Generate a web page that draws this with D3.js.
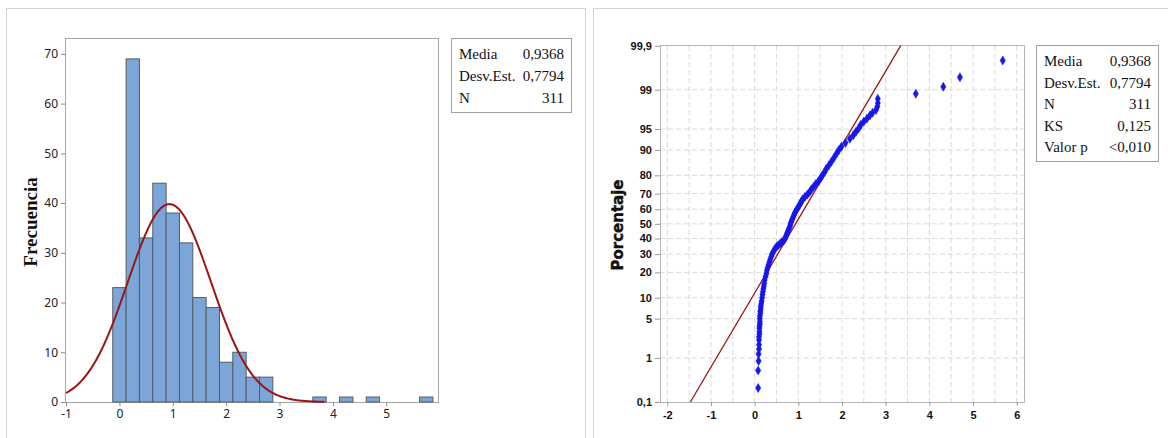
<!DOCTYPE html>
<html>
<head>
<meta charset="utf-8">
<script src="https://cdn.jsdelivr.net/npm/d3@7"></script>
<style>
  body { margin: 0; background: #fff; }
  .hist-tick text { font-family: "Noto Sans", sans-serif; font-size: 12px; fill: #222; }
  .prob-tick text { font-family: "Liberation Sans", Arial, sans-serif; font-size: 11px; font-weight: bold; fill: #111; }
  .stats text { font-family: "Liberation Serif", "Times New Roman", serif; font-size: 15px; fill: #111; }
</style>
</head>
<body>
<svg id="chart" width="1168" height="438"></svg>
<script>
// histogram bins (width 0.25) and counts
const binWidth = 0.25;
const binCenters = [0, 0.25, 0.5, 0.75, 1, 1.25, 1.5, 1.75, 2, 2.25, 2.5, 2.75, 3.75, 4.25, 4.75, 5.75];
const binCounts = [23, 69, 33, 44, 38, 32, 21, 19, 8, 10, 5, 5, 1, 1, 1, 1];
const histXTicks = [-1, 0, 1, 2, 3, 4, 5];
const histYTicks = [0, 10, 20, 30, 40, 50, 60, 70];

const mean = 0.9368;
const sd = 0.7794;
const n = 311;

const histStats = [["Media", "0,9368"], ["Desv.Est.", "0,7794"], ["N", "311"]];
const probStats = [["Media", "0,9368"], ["Desv.Est.", "0,7794"], ["N", "311"], ["KS", "0,125"], ["Valor p", "<0,010"]];

// probability plot points: percentage and value
const probPct = [0.22, 0.55, 0.87, 1.2, 1.5, 1.8, 2.2, 2.5, 2.8, 3.1, 3.5, 3.8, 4.1, 4.5, 5, 5.5, 6, 6.5, 7, 7.6,
  8.2, 9, 10, 11, 12, 13, 14, 15, 16.5, 18, 19.5, 21, 22.5, 24, 25.5, 27, 28.5, 30, 31.5, 33,
  34.5, 35.5, 36.5, 37.5, 38.5, 39.5, 41, 42.5, 44, 45.5, 47, 48.5, 50, 51.5, 53, 54.5, 56, 57.5, 59, 60.5,
  62, 63.5, 65, 66.5, 68, 69.5, 71, 72.5, 74, 75.5, 77, 78.5, 80, 81.5, 83, 84.5, 86, 87.5, 89, 90,
  91, 92, 93, 93.8, 94.5, 95.1, 95.7, 96.2, 96.6, 97, 97.3, 97.6, 97.9, 98.2, 98.5, 98.8, 99.13, 99.45, 99.77];
const probVal = [0.08, 0.08, 0.09, 0.09, 0.10, 0.10, 0.10, 0.10, 0.11, 0.11, 0.11, 0.11, 0.12, 0.12, 0.12, 0.12, 0.13, 0.13, 0.14, 0.14,
  0.15, 0.16, 0.17, 0.18, 0.19, 0.20, 0.21, 0.22, 0.23, 0.25, 0.27, 0.28, 0.30, 0.32, 0.34, 0.36, 0.38, 0.40, 0.43, 0.46,
  0.50, 0.54, 0.58, 0.62, 0.66, 0.69, 0.71, 0.73, 0.75, 0.77, 0.79, 0.81, 0.82, 0.84, 0.86, 0.88, 0.90, 0.92, 0.95, 0.98,
  1.01, 1.04, 1.07, 1.10, 1.15, 1.21, 1.26, 1.30, 1.35, 1.40, 1.46, 1.51, 1.55, 1.60, 1.64, 1.70, 1.76, 1.82, 1.88, 1.93,
  1.99, 2.08, 2.18, 2.26, 2.32, 2.38, 2.43, 2.50, 2.57, 2.64, 2.70, 2.78, 2.81, 2.82, 2.82, 3.69, 4.32, 4.70, 5.68];
const probYTicks = [0.1, 1, 5, 10, 20, 30, 40, 50, 60, 70, 80, 90, 95, 99, 99.9];
const probXTicks = [-2, -1, 0, 1, 2, 3, 4, 5, 6];

// inverse normal cdf (Acklam)
function probit(p) {
  const a = [-39.69683028665376, 220.9460984245205, -275.9285104469687, 138.357751867269, -30.66479806614716, 2.506628277459239];
  const b = [-54.47609879822406, 161.5858368580409, -155.6989798598866, 66.80131188771972, -13.28068155288572];
  const c = [-0.007784894002430293, -0.3223964580411365, -2.400758277161838, -2.549732539343734, 4.374664141464968, 2.938163982698783];
  const d = [0.007784695709041462, 0.3224671290700398, 2.445134137142996, 3.754408661907416];
  const pl = 0.02425;
  if (p < pl) {
    const q = Math.sqrt(-2 * Math.log(p));
    return (((((c[0]*q+c[1])*q+c[2])*q+c[3])*q+c[4])*q+c[5]) / ((((d[0]*q+d[1])*q+d[2])*q+d[3])*q+1);
  }
  if (p > 1 - pl) {
    const q = Math.sqrt(-2 * Math.log(1 - p));
    return -(((((c[0]*q+c[1])*q+c[2])*q+c[3])*q+c[4])*q+c[5]) / ((((d[0]*q+d[1])*q+d[2])*q+d[3])*q+1);
  }
  const q = p - 0.5, r = q * q;
  return (((((a[0]*r+a[1])*r+a[2])*r+a[3])*r+a[4])*r+a[5])*q / (((((b[0]*r+b[1])*r+b[2])*r+b[3])*r+b[4])*r+1);
}

const svg = d3.select("#chart");
const panelStroke = "#d3d3d3";
const red = "#9a1616";

// panel borders
svg.append("rect").attr("x", 6.5).attr("y", 8.5).attr("width", 579).attr("height", 440)
  .attr("fill", "none").attr("stroke", panelStroke);
svg.append("rect").attr("x", 593.5).attr("y", 8.5).attr("width", 600).attr("height", 440)
  .attr("fill", "none").attr("stroke", panelStroke);

// ---------- histogram ----------
const hx = d3.scaleLinear().domain([-1.02, 5.97]).range([65, 438]);
const hy = d3.scaleLinear().domain([0, 73.2]).range([402, 38]);

const hist = svg.append("g");
hist.append("rect").attr("x", 65.5).attr("y", 38.5).attr("width", 373).attr("height", 364)
  .attr("fill", "none").attr("stroke", "#a6a6a6");

hist.selectAll("rect.bar").data(binCenters).join("rect")
  .attr("class", "bar")
  .attr("x", d => hx(d - binWidth / 2))
  .attr("width", d => hx(d + binWidth / 2) - hx(d - binWidth / 2))
  .attr("y", (d, i) => hy(binCounts[i]))
  .attr("height", (d, i) => hy(0) - hy(binCounts[i]))
  .attr("fill", "#7ca5d8").attr("stroke", "#555c66").attr("stroke-width", 1);

// fitted normal curve
const pdf = x => Math.exp(-0.5 * ((x - mean) / sd) ** 2) / (sd * Math.sqrt(2 * Math.PI)) * n * binWidth;
const curveX = d3.range(-1, 3.85, 0.02);
hist.append("path")
  .attr("d", d3.line().x(d => hx(d)).y(d => hy(pdf(d)))(curveX))
  .attr("fill", "none").attr("stroke", red).attr("stroke-width", 2);

const hxAxis = hist.append("g").attr("class", "hist-tick").attr("transform", "translate(0,402)")
  .call(d3.axisBottom(hx).tickValues(histXTicks).tickFormat(d3.format("d")).tickSize(4).tickPadding(3));
const hyAxis = hist.append("g").attr("class", "hist-tick").attr("transform", "translate(65,0)")
  .call(d3.axisLeft(hy).tickValues(histYTicks).tickSize(4).tickPadding(3));
[hxAxis, hyAxis].forEach(a => {
  a.select(".domain").remove();
  a.selectAll("line").attr("stroke", "#8a8a8a");
});
hxAxis.selectAll("text").text(d => d < 0 ? "-" + Math.abs(d) : d);

hist.append("text")
  .attr("transform", "translate(37,222) rotate(-90)")
  .attr("text-anchor", "middle")
  .style("font-family", "'Liberation Serif', 'Times New Roman', serif")
  .style("font-size", "19px").style("font-weight", "bold").attr("fill", "#111")
  .text("Frecuencia");

// ---------- probability plot ----------
const px = d3.scaleLinear().domain([-2.167, 6.167]).range([660, 1024]);
const pz = d3.scaleLinear().domain([probit(0.001), probit(0.999)]).range([402, 45.7]);
const py = pct => pz(probit(pct / 100));

const prob = svg.append("g");
const grid = prob.append("g").attr("stroke", "#d9d9d9").attr("stroke-dasharray", "5,3");
grid.selectAll("line.v").data(d3.range(-2, 6.01, 0.5)).join("line")
  .attr("x1", d => px(d)).attr("x2", d => px(d)).attr("y1", 46).attr("y2", 402);
grid.selectAll("line.h").data(probYTicks.slice(1, -1)).join("line")
  .attr("x1", 660).attr("x2", 1024).attr("y1", d => py(d)).attr("y2", d => py(d));

prob.append("rect").attr("x", 660.5).attr("y", 45.5).attr("width", 364).attr("height", 357)
  .attr("fill", "none").attr("stroke", "#b3b3b3");

// fitted line from 0.1% to 99.9%
prob.append("line")
  .attr("x1", px(mean + sd * probit(0.001))).attr("y1", py(0.1))
  .attr("x2", px(mean + sd * probit(0.999))).attr("y2", py(99.9))
  .attr("stroke", red).attr("stroke-width", 1.3);

prob.selectAll("path.pt").data(probVal).join("path")
  .attr("class", "pt")
  .attr("transform", (d, i) => `translate(${px(d)},${py(probPct[i])})`)
  .attr("d", d3.symbol(d3.symbolDiamond, 24))
  .attr("fill", "#1717e8").attr("stroke", "#1717e8").attr("stroke-width", 0.5);

const pxAxis = prob.append("g").attr("class", "prob-tick").attr("transform", "translate(0,402)")
  .call(d3.axisBottom(px).tickValues(probXTicks).tickSize(4).tickPadding(5));
const pyAxis = prob.append("g").attr("class", "prob-tick").attr("transform", "translate(660,0)")
  .call(d3.axisLeft(pz).tickValues(probYTicks.map(p => probit(p / 100))).tickSize(5).tickPadding(3));
[pxAxis, pyAxis].forEach(a => {
  a.select(".domain").remove();
  a.selectAll("line").attr("stroke", "#9a9a9a");
});
pxAxis.selectAll("text").text(d => d < 0 ? "-" + Math.abs(d) : d);
pyAxis.selectAll("text").text((d, i) => String(probYTicks[i]).replace(".", ","));

prob.append("text")
  .attr("transform", "translate(623,225) rotate(-90)")
  .attr("text-anchor", "middle")
  .style("font-family", "'DejaVu Sans', sans-serif")
  .style("font-size", "15px").style("font-weight", "bold").attr("fill", "#111")
  .attr("stroke", "#111").attr("stroke-width", 0.4)
  .text("Porcentaje");

// ---------- stats boxes ----------
function statsBox(x, y, w, rows, rowH) {
  const g = svg.append("g").attr("class", "stats").attr("transform", `translate(${x},${y})`);
  g.append("rect").attr("x", 0.5).attr("y", 0.5).attr("width", w).attr("height", rows.length * rowH + 8)
    .attr("fill", "#fff").attr("stroke", "#a0a0a0");
  rows.forEach((r, i) => {
    g.append("text").attr("x", 8).attr("y", 21 + i * rowH).text(r[0]);
    g.append("text").attr("x", w - 7).attr("y", 21 + i * rowH).attr("text-anchor", "end").text(r[1]);
  });
}
statsBox(451, 38, 120, histStats, 22);
statsBox(1036, 45, 122, probStats, 21.6);
</script>
</body>
</html>
